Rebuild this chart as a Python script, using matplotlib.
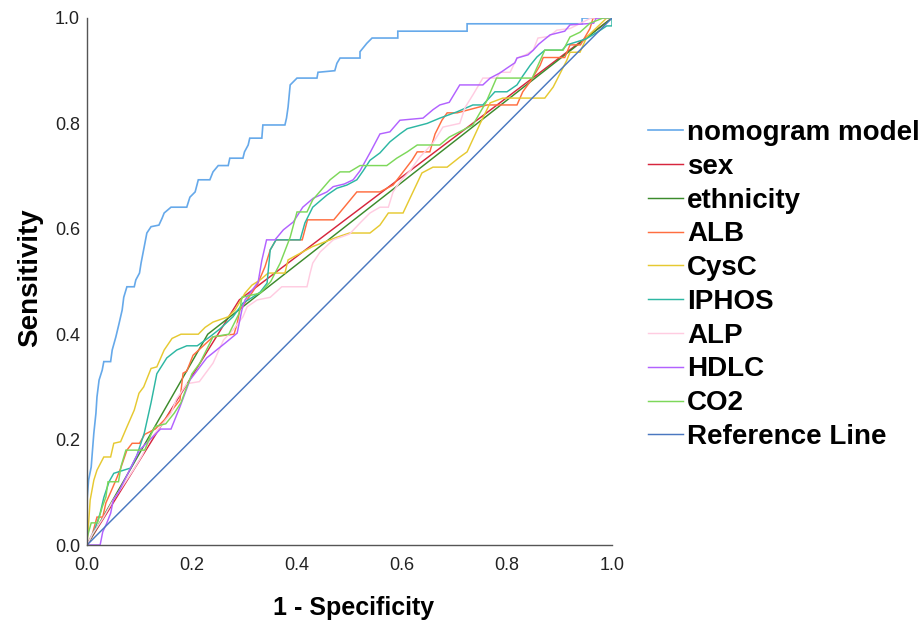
import numpy as np
import matplotlib as mpl
mpl.use('Agg')
import matplotlib.pyplot as plt

plt.rcParams['font.family'] = ['Liberation Sans', 'DejaVu Sans']

# ROC curves (1 - specificity, sensitivity)
nomogram_fpr = [0, 0, 0.003, 0.008, 0.01, 0.013, 0.017, 0.019, 0.023, 0.029, 0.032, 0.045, 0.048, 0.055,
                0.061, 0.067, 0.07, 0.076, 0.09, 0.093, 0.1, 0.103, 0.109, 0.114, 0.122, 0.137, 0.143, 0.147,
                0.16, 0.19, 0.196, 0.206, 0.212, 0.234, 0.24, 0.25, 0.269, 0.272, 0.297, 0.3, 0.307, 0.31,
                0.333, 0.335, 0.377, 0.38, 0.383, 0.387, 0.4, 0.438, 0.44, 0.472, 0.476, 0.482, 0.52, 0.52,
                0.533, 0.543, 0.592, 0.592, 0.724, 0.724, 0.943, 0.943, 1]
nomogram_tpr = [0, 0.085, 0.123, 0.148, 0.174, 0.212, 0.25, 0.281, 0.313, 0.332, 0.348, 0.348, 0.37, 0.395,
                0.42, 0.446, 0.47, 0.49, 0.49, 0.503, 0.516, 0.535, 0.566, 0.592, 0.604, 0.607, 0.62, 0.63,
                0.641, 0.641, 0.66, 0.67, 0.693, 0.693, 0.708, 0.72, 0.72, 0.734, 0.734, 0.746, 0.759, 0.772,
                0.772, 0.797, 0.797, 0.81, 0.831, 0.873, 0.886, 0.886, 0.897, 0.9, 0.914, 0.924, 0.924, 0.936,
                0.952, 0.962, 0.962, 0.975, 0.975, 0.989, 0.989, 1.0, 1]

sex_fpr = [0, 0.29, 1]
sex_tpr = [0, 0.465, 1]

ethnicity_fpr = [0, 0.23, 1]
ethnicity_tpr = [0, 0.40, 1]

alb_fpr = [0, 0.01, 0.019, 0.03, 0.036, 0.045, 0.055, 0.065, 0.076, 0.086, 0.1, 0.11, 0.13, 0.15, 0.165,
           0.177, 0.183, 0.19, 0.202, 0.24, 0.28, 0.286, 0.291, 0.305, 0.324, 0.339, 0.349, 0.36, 0.41, 0.42,
           0.47, 0.49, 0.514, 0.558, 0.583, 0.619, 0.629, 0.653, 0.663, 0.676, 0.686, 0.705, 0.762, 0.819,
           0.83, 0.844, 0.863, 0.869, 0.91, 0.92, 0.94, 0.958, 0.964, 1]
alb_tpr = [0, 0.02, 0.053, 0.053, 0.08, 0.1, 0.123, 0.148, 0.18, 0.193, 0.193, 0.21, 0.22, 0.24, 0.26,
           0.275, 0.326, 0.33, 0.36, 0.395, 0.40, 0.42, 0.446, 0.465, 0.493, 0.528, 0.56, 0.579, 0.579, 0.617,
           0.617, 0.641, 0.67, 0.67, 0.683, 0.73, 0.746, 0.746, 0.78, 0.806, 0.82, 0.82, 0.835, 0.835,
           0.86, 0.879, 0.91, 0.925, 0.925, 0.949, 0.949, 0.98, 1.0, 1]

cysc_fpr = [0, 0.003, 0.006, 0.013, 0.019, 0.032, 0.045, 0.051, 0.064, 0.076, 0.09, 0.099, 0.108, 0.122,
            0.133, 0.147, 0.162, 0.179, 0.212, 0.225, 0.24, 0.269, 0.282, 0.301, 0.314, 0.33, 0.345, 0.377,
            0.383, 0.429, 0.476, 0.5, 0.539, 0.558, 0.574, 0.602, 0.638, 0.659, 0.686, 0.71, 0.724, 0.749,
            0.768, 0.792, 0.872, 0.888, 0.914, 0.92, 0.939, 0.952, 0.99, 1]
cysc_tpr = [0, 0.04, 0.085, 0.123, 0.142, 0.167, 0.167, 0.193, 0.196, 0.224, 0.256, 0.288, 0.30, 0.335,
            0.338, 0.37, 0.392, 0.40, 0.40, 0.413, 0.423, 0.433, 0.446, 0.478, 0.493, 0.503, 0.516, 0.516,
            0.541, 0.566, 0.584, 0.592, 0.592, 0.607, 0.63, 0.63, 0.706, 0.717, 0.717, 0.736, 0.746, 0.80,
            0.839, 0.848, 0.848, 0.869, 0.92, 0.935, 0.935, 0.964, 1.0, 1]

iphos_fpr = [0, 0.005, 0.015, 0.025, 0.032, 0.042, 0.051, 0.07, 0.083, 0.095, 0.109, 0.122, 0.133, 0.152,
             0.171, 0.19, 0.21, 0.234, 0.253, 0.278, 0.297, 0.315, 0.33, 0.343, 0.349, 0.36, 0.406, 0.415,
             0.43, 0.457, 0.476, 0.495, 0.514, 0.526, 0.539, 0.558, 0.577, 0.596, 0.61, 0.648, 0.672, 0.705,
             0.735, 0.754, 0.777, 0.8, 0.819, 0.83, 0.844, 0.857, 0.872, 0.905, 0.914, 0.95, 0.975, 0.99, 1, 1]
iphos_tpr = [0, 0.01, 0.03, 0.06, 0.09, 0.12, 0.136, 0.142, 0.146, 0.17, 0.212, 0.27, 0.325, 0.355,
             0.37, 0.378, 0.378, 0.395, 0.41, 0.433, 0.459, 0.47, 0.48, 0.497, 0.56, 0.579, 0.579, 0.611,
             0.641, 0.664, 0.677, 0.683, 0.693, 0.71, 0.73, 0.744, 0.765, 0.78, 0.79, 0.80, 0.81, 0.822,
             0.835, 0.835, 0.86, 0.86, 0.873, 0.89, 0.91, 0.926, 0.939, 0.939, 0.949, 0.96, 0.975, 0.985, 0.985, 1]

alp_fpr = [0, 0.01, 0.03, 0.05, 0.07, 0.09, 0.105, 0.12, 0.14, 0.16, 0.17, 0.19, 0.214, 0.24, 0.26,
           0.278, 0.297, 0.305, 0.324, 0.349, 0.371, 0.419, 0.425, 0.43, 0.444, 0.469, 0.5, 0.52, 0.539,
           0.558, 0.574, 0.583, 0.596, 0.615, 0.634, 0.659, 0.678, 0.71, 0.72, 0.735, 0.754, 0.78, 0.787,
           0.806, 0.819, 0.835, 0.85, 0.859, 0.88, 0.895, 0.92, 0.94, 0.96, 1]
alp_tpr = [0, 0.02, 0.05, 0.085, 0.115, 0.145, 0.17, 0.2, 0.225, 0.25, 0.276, 0.306, 0.31, 0.345, 0.389,
           0.408, 0.433, 0.452, 0.465, 0.47, 0.49, 0.49, 0.516, 0.535, 0.556, 0.579, 0.59, 0.611, 0.63,
           0.641, 0.641, 0.67, 0.689, 0.71, 0.736, 0.763, 0.793, 0.80, 0.83, 0.854, 0.886, 0.886, 0.897,
           0.897, 0.924, 0.93, 0.939, 0.962, 0.965, 0.977, 0.98, 0.99, 1.0, 1]

hdlc_fpr = [0, 0.025, 0.03, 0.037, 0.045, 0.05, 0.06, 0.07, 0.08, 0.09, 0.1, 0.11, 0.125, 0.14, 0.16,
            0.177, 0.196, 0.228, 0.263, 0.286, 0.295, 0.301, 0.326, 0.333, 0.342, 0.358, 0.374, 0.393,
            0.411, 0.431, 0.444, 0.457, 0.469, 0.49, 0.507, 0.52, 0.54, 0.558, 0.577, 0.596, 0.64, 0.659,
            0.672, 0.69, 0.71, 0.754, 0.768, 0.787, 0.8, 0.815, 0.819, 0.84, 0.85, 0.86, 0.882, 0.91, 0.92,
            0.965, 0.97, 1]
hdlc_tpr = [0, 0, 0.025, 0.04, 0.06, 0.085, 0.1, 0.12, 0.14, 0.16, 0.18, 0.19, 0.205, 0.22, 0.22,
            0.262, 0.313, 0.355, 0.383, 0.402, 0.446, 0.465, 0.499, 0.54, 0.579, 0.579, 0.598, 0.613,
            0.641, 0.658, 0.664, 0.67, 0.68, 0.685, 0.693, 0.71, 0.746, 0.78, 0.784, 0.806, 0.81, 0.826,
            0.835, 0.84, 0.873, 0.873, 0.886, 0.896, 0.905, 0.915, 0.924, 0.93, 0.939, 0.95, 0.968, 0.975,
            0.987, 0.99, 1.0, 1]

co2_fpr = [0, 0, 0.008, 0.02, 0.029, 0.036, 0.04, 0.06, 0.065, 0.074, 0.11, 0.122, 0.13, 0.15, 0.166,
           0.179, 0.19, 0.2, 0.215, 0.24, 0.27, 0.29, 0.295, 0.33, 0.35, 0.368, 0.387, 0.4, 0.419, 0.43,
           0.463, 0.482, 0.5, 0.52, 0.571, 0.59, 0.61, 0.629, 0.672, 0.69, 0.735, 0.76, 0.78, 0.848, 0.872,
           0.907, 0.92, 0.939, 0.958, 0.983, 1]
co2_tpr = [0, 0.013, 0.042, 0.042, 0.072, 0.091, 0.12, 0.12, 0.15, 0.18, 0.18, 0.21, 0.225, 0.23, 0.25,
           0.27, 0.3, 0.325, 0.345, 0.395, 0.40, 0.44, 0.47, 0.478, 0.5, 0.535, 0.584, 0.632, 0.632, 0.655,
           0.693, 0.708, 0.708, 0.72, 0.72, 0.734, 0.746, 0.759, 0.759, 0.774, 0.797, 0.84, 0.886, 0.886,
           0.939, 0.939, 0.964, 0.973, 0.99, 1.0, 1]

ref_fpr = [0, 1]
ref_tpr = [0, 1]

labels = ['nomogram model', 'sex', 'ethnicity', 'ALB', 'CysC', 'IPHOS', 'ALP', 'HDLC', 'CO2', 'Reference Line']
curves = [(nomogram_fpr, nomogram_tpr), (sex_fpr, sex_tpr), (ethnicity_fpr, ethnicity_tpr),
          (alb_fpr, alb_tpr), (cysc_fpr, cysc_tpr), (iphos_fpr, iphos_tpr), (alp_fpr, alp_tpr),
          (hdlc_fpr, hdlc_tpr), (co2_fpr, co2_tpr), (ref_fpr, ref_tpr)]
colors = ['#66A9EA', '#D7263D', '#3C8B2C', '#FF6E40', '#E6C931', '#2DB7A3', '#FFCCE1', '#B262FF',
          '#7DD85A', '#4A78C0']

fig = plt.figure(figsize=(9.19, 6.21), dpi=100)
ax = fig.add_axes([87/919, 76/621, 525/919, 527/621])

for (x, y), lab, c in zip(curves, labels, colors):
    lw = 1.2 if lab == 'nomogram model' else 1.05
    ax.plot(x, y, color=c, lw=lw, label=lab, solid_joinstyle='miter')

ax.set_xlim(0, 1)
ax.set_ylim(0, 1)
ax.set_xticks(np.arange(0, 1.01, 0.2))
ax.set_yticks(np.arange(0, 1.01, 0.2))
ax.set_xticklabels(['%.1f' % v for v in np.arange(0, 1.01, 0.2)])
ax.set_yticklabels(['%.1f' % v for v in np.arange(0, 1.01, 0.2)])
ax.tick_params(length=0, labelsize=13, colors='#222222')
ax.tick_params(axis='x', pad=9)
ax.tick_params(axis='y', pad=5)

for s in ['top', 'right']:
    ax.spines[s].set_visible(False)
for s in ['left', 'bottom']:
    ax.spines[s].set_color('#555555')
    ax.spines[s].set_linewidth(1.0)

ax.set_ylabel('Sensitivity', fontsize=20, fontweight='bold')
ax.set_xlabel('1 - Specificity', fontsize=18, fontweight='bold')
ax.yaxis.set_label_coords(-0.083, 0.508)
ax.xaxis.set_label_coords(0.507, -0.097)

fig.legend(loc='center left', bbox_to_anchor=(648/919, 336/621), frameon=False,
           prop={'size': 20, 'weight': 'bold'}, handlelength=1.25, handletextpad=0.15,
           labelspacing=0.28, borderpad=0, borderaxespad=0)

fig.savefig('out.png', dpi=100)
